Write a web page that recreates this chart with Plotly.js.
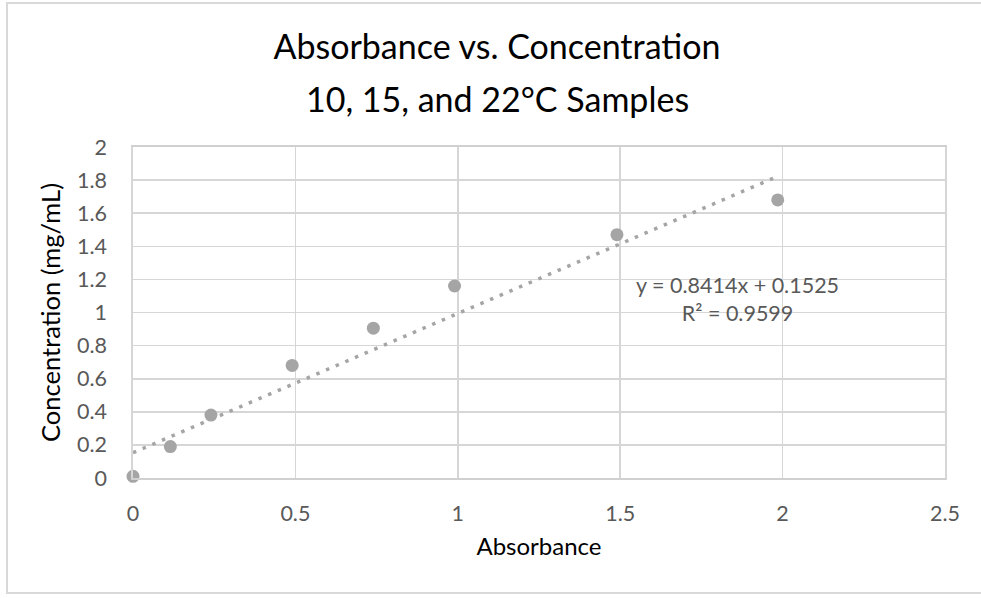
<!DOCTYPE html>
<html>
<head>
<meta charset="utf-8">
<script src="https://cdn.plot.ly/plotly-3.0.1.min.js"></script>
<style>
  html, body { margin: 0; padding: 0; background: #fff; overflow: hidden; }
  #wrap { position: relative; width: 981px; height: 598px; }
  #chart { width: 981px; height: 598px; }
  #frame { position: absolute; left: 6px; top: 2px; width: 1000px; height: 592px;
           border: 2px solid #D9D9D9; pointer-events: none; box-sizing: border-box; }
</style>
</head>
<body>
<div id="wrap">
  <div id="chart"></div>
  <div id="frame"></div>
</div>
<script>
// Data
const absorbance    = [0, 0.115, 0.24, 0.49, 0.74, 0.99, 1.49, 1.985];
const concentration = [0.01, 0.19, 0.38, 0.68, 0.905, 1.16, 1.47, 1.68];

// Linear trendline as labelled on the chart
const trendSlope = 0.8414;
const trendIntercept = 0.1525;
const trendLabel = ["y = 0.8414x + 0.1525", "R² = 0.9599"];

const xTickVals = [0, 0.5, 1, 1.5, 2, 2.5];
const xTickText = ["0", "0.5", "1", "1.5", "2", "2.5"];
const yTickVals = [0, 0.2, 0.4, 0.6, 0.8, 1, 1.2, 1.4, 1.6, 1.8, 2];
const yTickText = ["0", "0.2", "0.4", "0.6", "0.8", "1", "1.2", "1.4", "1.6", "1.8", "2"];

const titleLines = ["Absorbance vs. Concentration", "10, 15, and 22°C Samples"];
const xTitle = "Absorbance";
const yTitle = "Concentration (mg/mL)";

const trendX = [Math.min(...absorbance), Math.max(...absorbance)];
const trendY = trendX.map(x => trendSlope * x + trendIntercept);

const FONT = "Lato, 'Open Sans', sans-serif";
const GRAY = "#A5A5A5";
const W = 981, H = 598;
const M = { l: 133, r: 36, t: 147, b: 120 };

const traces = [
  {
    x: trendX, y: trendY, type: "scatter", mode: "lines",
    line: { color: GRAY, width: 3.5, dash: "3.5px,7px" },
    hoverinfo: "skip", showlegend: false, cliponaxis: false
  },
  {
    x: absorbance, y: concentration, type: "scatter", mode: "markers",
    marker: { color: GRAY, size: 13, line: { width: 0 } },
    showlegend: false, cliponaxis: false
  }
];

const layout = {
  width: W, height: H,
  margin: M,
  paper_bgcolor: "#fff", plot_bgcolor: "#fff",
  font: { family: FONT, color: "#595959" },
  title: {
    text: titleLines[0],
    font: { family: FONT, size: 34, color: "#000" },
    x: 497 / W, xanchor: "center", xref: "container",
    y: 1 - 47 / H, yanchor: "middle", yref: "container"
  },
  xaxis: {
    range: [0, 2.5], tickvals: xTickVals, ticktext: xTickText,
    showgrid: true, gridcolor: "#D6D6D6", gridwidth: 1.6,
    showline: true, linecolor: "#D0D0D0", linewidth: 1.8, mirror: true,
    zeroline: false, ticks: "", ticklabelstandoff: 15,
    tickfont: { family: FONT, size: 21.5, color: "#595959" },
    title: { text: xTitle, standoff: 14, font: { family: FONT, size: 24, color: "#000" } },
    fixedrange: true
  },
  yaxis: {
    range: [0, 2], tickvals: yTickVals, ticktext: yTickText,
    showgrid: true, gridcolor: "#D6D6D6", gridwidth: 1.6,
    showline: true, linecolor: "#D6D6D6", linewidth: 1.6, mirror: true,
    zeroline: false, ticks: "", ticklabelstandoff: 20,
    tickfont: { family: FONT, size: 21.5, color: "#595959" },
    title: { text: yTitle, standoff: 9, font: { family: FONT, size: 25.5, color: "#000" } },
    fixedrange: true
  },
  annotations: [
    {
      text: titleLines[1], showarrow: false,
      xref: "paper", x: (497 - M.l) / (W - M.l - M.r), xanchor: "center",
      yref: "paper", y: (H - M.b - 98) / (H - M.t - M.b), yanchor: "middle",
      font: { family: FONT, size: 34, color: "#000" }
    },
    {
      text: trendLabel.join("<br>"), showarrow: false,
      xref: "x", x: 1.86, xanchor: "center",
      yref: "y", y: 1.083, yanchor: "middle",
      align: "center",
      font: { family: FONT, size: 21.5, color: "#595959" }
    }
  ],
  showlegend: false
};

Plotly.newPlot("chart", traces, layout, { displayModeBar: false, staticPlot: true });
</script>
</body>
</html>
